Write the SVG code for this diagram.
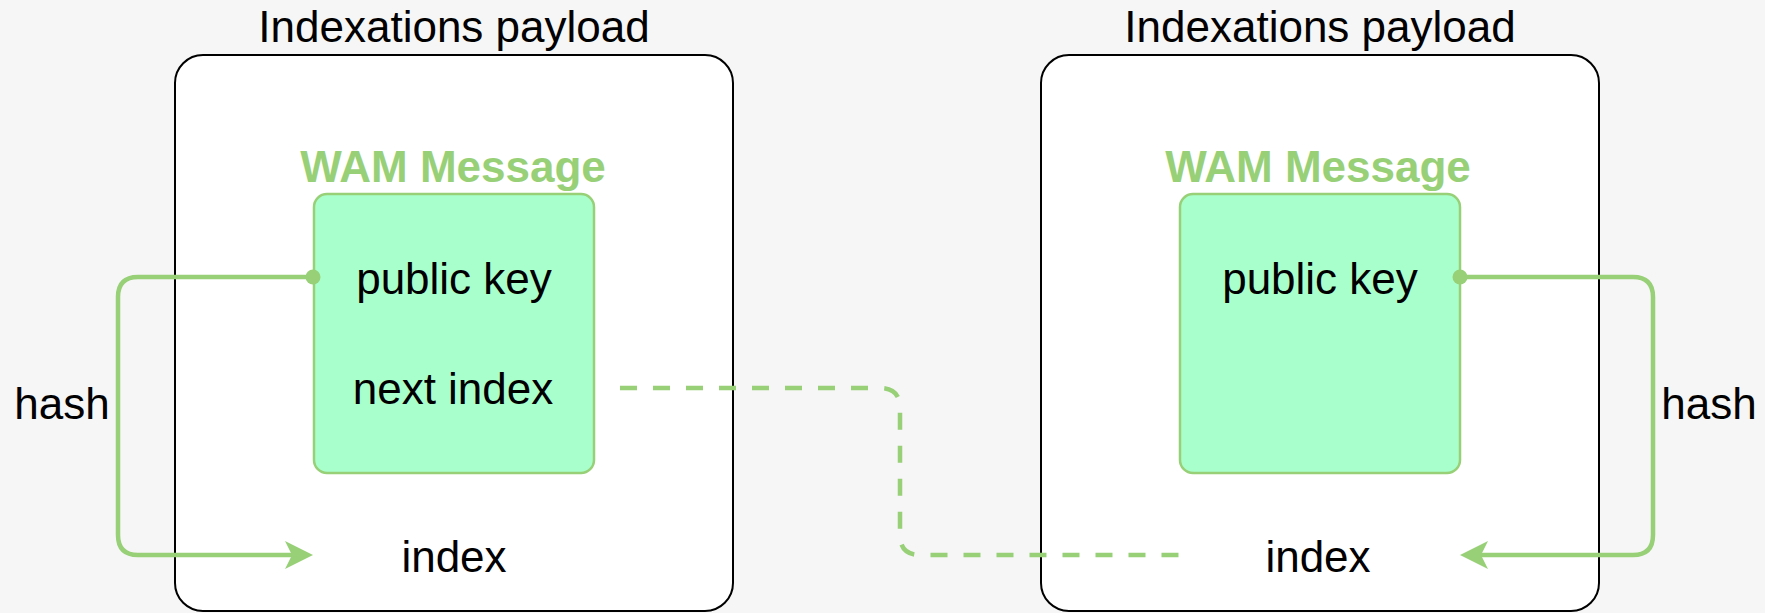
<svg xmlns="http://www.w3.org/2000/svg" width="1765" height="613" viewBox="0 0 1765 613">
  <style>
    .bg { fill: #f6f6f6; }
    .payload { fill: #ffffff; stroke: #000000; stroke-width: 2; }
    .msg { fill: #a8ffcc; stroke: #97d077; stroke-width: 2.5; }
    .txt { font-family: "Liberation Sans", Arial, Helvetica, sans-serif; font-size: 44px; fill: #000000; text-anchor: middle; }
    .msg-title { font-family: "Liberation Sans", Arial, Helvetica, sans-serif; font-size: 44px; font-weight: bold; fill: #97d077; text-anchor: middle; }
    .link { fill: none; stroke: #97d077; stroke-width: 4.5; }
    .dashed { stroke-dasharray: 17 16; }
    .dot { fill: #97d077; }
  </style>
  <defs>
    <!-- classic notched arrowhead, tip 21px beyond the path end -->
    <marker id="arrow" markerUnits="userSpaceOnUse" markerWidth="28" markerHeight="28" refX="7" refY="14" orient="auto" overflow="visible">
      <path d="M0,0 L28,14 L0,28 L7,14 Z" fill="#97d077"/>
    </marker>
  </defs>

  <rect class="bg" x="0" y="0" width="1765" height="613"/>

  <!-- left indexation payload -->
  <g id="payload-left">
    <text class="txt" x="454" y="42">Indexations payload</text>
    <rect class="payload" x="175" y="55" width="558" height="556" rx="28" ry="28"/>
    <text class="txt" x="454" y="572">index</text>
  </g>
  <g id="wam-left">
    <text class="msg-title" x="453" y="182">WAM Message</text>
    <rect class="msg" x="314" y="194" width="280" height="279" rx="13" ry="13"/>
    <text class="txt" x="454" y="294">public key</text>
    <text class="txt" x="453" y="404">next index</text>
  </g>

  <!-- right indexation payload -->
  <g id="payload-right">
    <text class="txt" x="1320" y="42">Indexations payload</text>
    <rect class="payload" x="1041" y="55" width="558" height="556" rx="28" ry="28"/>
    <text class="txt" x="1318" y="572">index</text>
  </g>
  <g id="wam-right">
    <text class="msg-title" x="1318" y="182">WAM Message</text>
    <rect class="msg" x="1180" y="194" width="280" height="279" rx="13" ry="13"/>
    <text class="txt" x="1320" y="294">public key</text>
  </g>

  <!-- connectors -->
  <g id="connectors">
    <path class="link" d="M313,277 H138 Q118,277 118,297 V535 Q118,555 138,555 H292" marker-end="url(#arrow)"/>
    <circle class="dot" cx="313" cy="277" r="7.5"/>
    <text class="txt" x="62" y="419">hash</text>

    <path class="link" d="M1460,277 H1633 Q1653,277 1653,297 V535 Q1653,555 1633,555 H1481" marker-end="url(#arrow)"/>
    <circle class="dot" cx="1460" cy="277" r="7.5"/>
    <text class="txt" x="1709" y="419">hash</text>

    <path class="link dashed" d="M620,388 H880 Q900,388 900,408 V535 Q900,555 920,555 H1180"/>
  </g>
</svg>
